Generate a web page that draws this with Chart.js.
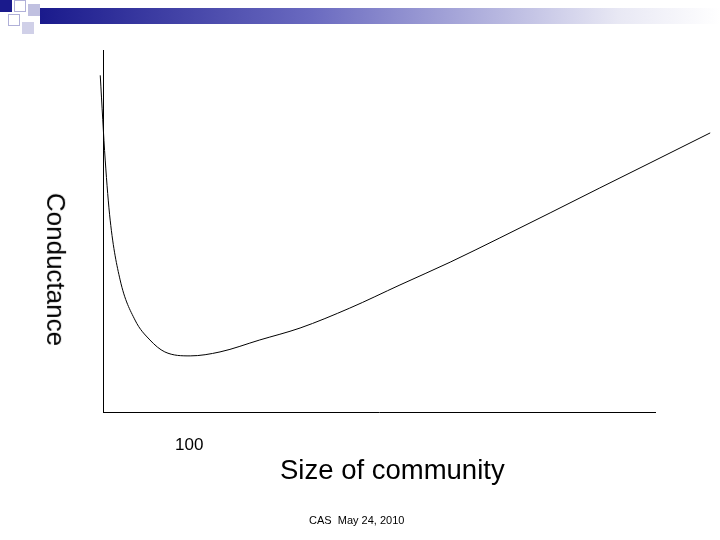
<!DOCTYPE html>
<html><head><meta charset="utf-8">
<script src="https://cdn.jsdelivr.net/npm/chart.js@4/dist/chart.umd.min.js"></script>
<style>
body{margin:0;width:720px;height:540px;background:#fff;position:relative;overflow:hidden;font-family:"Liberation Sans",Arial,sans-serif}
#c{position:absolute;left:0;top:0}
.t{position:absolute;color:#000;white-space:nowrap}
</style></head><body>
<div style="position:absolute;left:40px;top:8px;width:680px;height:16px;background:linear-gradient(to right,#1a1a8c,#6a6ac0 40%,#e8e8f4 85%,#fff)"></div>
<div style="position:absolute;left:0;top:0;width:12px;height:12px;background:#1a1a8c"></div>
<div style="position:absolute;left:14px;top:0;width:12px;height:12px;background:#fff;border:1px solid #b0b0d8;box-sizing:border-box"></div>
<div style="position:absolute;left:28px;top:4px;width:12px;height:12px;background:#c0c0e0"></div>
<div style="position:absolute;left:8px;top:14px;width:12px;height:12px;background:#fff;border:1px solid #b0b0d8;box-sizing:border-box"></div>
<div style="position:absolute;left:22px;top:22px;width:12px;height:12px;background:#d0d0e8"></div>
<canvas id="c" width="720" height="540"></canvas>
<div class="t" style="left:175px;top:435px;font-size:17px">100</div>
<div class="t" style="left:280px;top:454px;font-size:27.5px">Size of community</div>
<div class="t" style="left:309px;top:514px;font-size:11px">CAS&nbsp; May 24, 2010</div>
<div class="t" style="left:-21px;top:254px;font-size:26px;transform:rotate(90deg);transform-origin:center">Conductance</div>
<script>
const sizes=[-0.5,0.4,1.3,3.1,5.8,8.5,11.2,15.8,21.2,28.4,35.7,44.7,53.8,62.9,71.9,81.0,90.0,99.1,110];
const conductance=[93,69.6,53,36.5,25.4,19.9,16.6,15.5,16.6,19.9,23.2,28.7,35.1,41.4,48.1,55.0,61.9,68.8,77.1];
new Chart(document.getElementById('c'),{
type:'scatter',
data:{datasets:[{data:sizes.map((x,i)=>({x,y:conductance[i]})),showLine:true,borderColor:'#000',borderWidth:1,pointRadius:0,cubicInterpolationMode:'monotone',clip:false}]},
options:{responsive:false,animation:false,
layout:{padding:{left:103,top:50,right:65,bottom:128}},
plugins:{legend:{display:false},tooltip:{enabled:false}},
scales:{
x:{type:'linear',min:0,max:100,ticks:{display:false},grid:{display:false,drawTicks:false},border:{color:'#000',width:1}},
y:{min:0,max:100,ticks:{display:false},grid:{display:false,drawTicks:false},border:{color:'#000',width:1}}
}}});
</script>
</body></html>
